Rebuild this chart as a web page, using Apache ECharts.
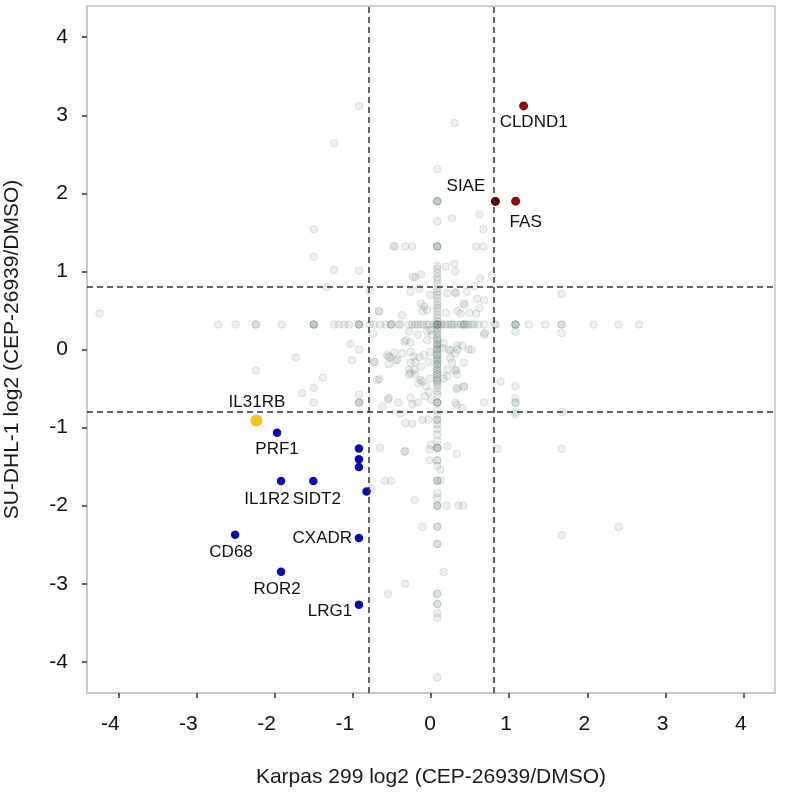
<!DOCTYPE html>
<html>
<head>
<meta charset="utf-8">
<script src="https://cdn.jsdelivr.net/npm/echarts@6/dist/echarts.min.js"></script>
<style>
  html, body { margin: 0; padding: 0; background: #ffffff; }
  #chart { width: 796px; height: 792px; }
</style>
</head>
<body>
<div id="chart"></div>
<script>
// ---------------- DATA ----------------
const xTicks = [-4, -3, -2, -1, 0, 1, 2, 3, 4];
const yTicks = [-4, -3, -2, -1, 0, 1, 2, 3, 4];
const thresholds = [-0.8, 0.8];

// Up-regulated in both (dark red)
const upNames = ['CLDND1', 'SIAE', 'FAS'];
const upX = [1.185, 0.824, 1.083];
const upY = [3.12, 1.897, 1.90];

// Down-regulated in both (blue)
const downNames = ['PRF1', '', '', '', '', 'IL1R2', 'SIDT2', 'CD68', 'CXADR', 'ROR2', 'LRG1'];
const downX = [-1.969, -0.922, -0.922, -0.922, -0.824, -1.918, -1.505, -2.506, -0.922, -1.918, -0.922];
const downY = [-1.066, -1.267, -1.407, -1.505, -1.82, -1.684, -1.684, -2.374, -2.416, -2.847, -3.268];

// Highlighted gene (yellow)
const hiNames = ['IL31RB'];
const hiX = [-2.233];
const hiY = [-0.909];

// Background genes: horizontal band (y = 0.32)
const bandPoints = [
  [-2.72,0.32],[-2.50,0.32],[-2.24,0.32],[-2.24,0.32],[-1.91,0.32],
  [-1.50,0.32],[-1.50,0.32],[-1.50,0.32],[-1.50,0.32],
  [-1.24,0.32],[-1.18,0.32],[-1.11,0.32],[-1.05,0.32],
  [-0.92,0.32],[-0.92,0.32],[-0.92,0.32],[-0.92,0.32],
  [-0.78,0.32],[-0.73,0.32],[-0.65,0.32],[-0.58,0.32],
  [-0.51,0.32],[-0.51,0.32],[-0.51,0.32],
  [-0.41,0.32],[-0.39,0.32],[-0.28,0.32],[-0.24,0.32],[-0.20,0.32],[-0.17,0.32],
  [-0.13,0.32],[-0.10,0.32],[-0.05,0.32],[-0.02,0.32],[0.04,0.32],
  [0.08,0.32],[0.08,0.32],[0.08,0.32],[0.08,0.32],[0.08,0.32],[0.08,0.32],
  [0.12,0.32],[0.14,0.32],[0.18,0.32],[0.21,0.32],[0.25,0.32],[0.27,0.32],
  [0.30,0.32],[0.34,0.32],[0.38,0.32],[0.42,0.32],[0.42,0.32],[0.42,0.32],
  [0.45,0.32],[0.48,0.32],[0.52,0.32],[0.55,0.32],[0.61,0.32],[0.68,0.32],
  [0.82,0.32],[0.82,0.32],[1.08,0.32],[1.08,0.32],[1.08,0.32],[1.08,0.32],
  [1.25,0.32],[1.46,0.32],[1.67,0.32],[1.67,0.32],[2.08,0.32],[2.40,0.32],[2.66,0.32]
];

// Background genes: vertical band (x = 0.08)
const columnPoints = [
  [0.08,2.31],[0.08,1.90],[0.08,1.90],[0.08,1.90],[0.08,1.90],[0.08,1.64],
  [0.08,1.32],[0.08,1.32],[0.08,1.32],[0.08,1.32],
  [0.08,1.07],[0.08,1.03],[0.08,0.98],[0.08,0.93],[0.08,0.89],[0.08,0.84],
  [0.08,0.78],[0.08,0.74],[0.08,0.70],[0.08,0.66],[0.08,0.61],[0.08,0.57],
  [0.08,0.53],[0.08,0.49],[0.08,0.44],[0.08,0.40],[0.08,0.36],[0.08,0.28],
  [0.08,0.25],[0.08,0.22],[0.08,0.19],[0.08,0.15],[0.08,0.12],[0.08,0.12],
  [0.08,0.08],[0.08,0.06],[0.08,0.06],[0.08,0.02],[0.08,0.00],[0.08,0.00],
  [0.08,-0.04],[0.08,-0.07],[0.08,-0.07],[0.08,-0.10],[0.08,-0.13],[0.08,-0.13],
  [0.08,-0.16],[0.08,-0.19],[0.08,-0.19],[0.08,-0.22],[0.08,-0.26],[0.08,-0.26],
  [0.08,-0.29],[0.08,-0.32],[0.08,-0.32],[0.08,-0.36],[0.08,-0.39],[0.08,-0.39],
  [0.08,-0.42],[0.08,-0.45],[0.08,-0.49],[0.08,-0.54],[0.08,-0.58],
  [0.08,-0.68],[0.08,-0.68],[0.08,-0.68],[0.08,-0.68],
  [0.08,-0.78],[0.08,-0.84],[0.08,-0.90],[0.08,-0.90],[0.08,-0.96],[0.08,-1.02],
  [0.08,-1.09],[0.08,-1.17],[0.08,-1.26],[0.08,-1.26],[0.08,-1.26],[0.08,-1.26],
  [0.08,-1.42],[0.08,-1.42],[0.08,-1.49],[0.08,-1.68],[0.08,-1.68],[0.08,-1.68],
  [0.08,-1.84],[0.08,-1.90],[0.08,-2.00],[0.08,-2.00],[0.08,-2.00],
  [0.08,-2.27],[0.08,-2.27],[0.08,-2.49],[0.08,-2.49],
  [0.08,-3.13],[0.08,-3.13],[0.08,-3.26],[0.08,-3.26],[0.08,-3.38],[0.08,-3.44],[0.08,-4.20]
];

// Background genes: scattered
const scatterPoints = [
  [-0.92,3.12],[0.30,2.90],[-1.24,2.64],[0.27,1.68],[0.62,1.73],[0.67,1.54],
  [-1.50,1.54],[-1.50,1.19],[-0.48,1.32],[-0.46,1.32],[-0.33,1.32],[-0.24,1.32],
  [0.58,1.32],[0.67,1.32],[0.19,1.06],[0.30,1.10],[0.31,1.00],[-1.24,1.02],
  [-0.92,1.01],[-1.33,0.80],[-0.78,0.75],[0.63,0.91],[0.78,0.95],[-0.20,0.93],
  [-0.13,0.96],[-0.23,0.93],[1.67,0.71],[-0.26,0.74],[-0.15,0.78],[-0.01,0.70],
  [0.21,0.72],[0.31,0.73],[0.46,0.74],[0.56,0.81],[0.59,0.65],[0.68,0.63],
  [-0.13,0.59],[-0.09,0.55],[-0.05,0.51],[0.42,0.59],[0.19,0.47],[0.38,0.46],
  [0.49,0.47],[0.43,0.57],[0.34,0.49],[0.58,0.46],[-0.67,0.49],[-0.37,0.44],
  [0.62,0.53],[-4.24,0.46],[-0.11,0.49],[0.32,0.72],[-0.66,0.49],
  [-0.01,0.25],[0.015,0.19],[-0.05,0.23],[-0.28,0.23],[-0.17,0.19],[-0.32,0.12],
  [-0.26,0.09],[-1.03,0.07],[-0.92,0.00],[-0.05,0.12],[0.16,0.08],[0.14,0.02],
  [0.33,0.05],[0.40,0.05],[0.25,-0.01],[0.48,0.00],[0.68,0.19],[1.08,0.23],
  [1.67,0.21],[-0.74,0.20],[-0.37,-0.05],[-0.26,-0.03],[-0.22,-0.09],[-0.15,-0.10],
  [-0.09,-0.07],[-0.01,-0.03],[-0.56,-0.07],[-0.52,-0.10],[-1.01,-0.14],[-0.73,-0.16],
  [-0.54,-0.19],[-0.45,-0.14],[-0.26,-0.17],[-0.20,-0.16],[-0.13,-0.22],[-0.03,-0.16],
  [0.25,-0.11],[0.31,-0.05],[0.27,-0.17],[0.21,-0.26],[0.31,-0.27],[0.33,-0.32],
  [0.42,-0.17],[-0.26,-0.30],[-0.28,-0.26],[-0.20,-0.32],[-0.13,-0.39],[-0.11,-0.41],
  [-0.01,-0.37],[0.16,-0.37],[-0.69,-0.39],[0.33,-0.49],[0.42,-0.47],[0.89,-0.41],
  [1.08,-0.47],[-1.73,-0.10],[-0.72,-0.16],[-2.24,-0.27],[-1.38,-0.36],[-0.66,-0.38],
  [-1.50,-0.49],[-1.65,-0.56],[-0.54,-0.09],[-0.47,-0.04],[-0.43,-0.13],[-0.34,0.10],
  [0.23,0.00],[0.34,0.00],[0.52,0.00],[0.69,0.21],[-0.06,-0.47],[0.21,-0.34],
  [0.32,-0.26],[-0.16,-0.43],[-0.08,-0.60],[-0.21,-0.26],[-0.28,-0.32],[-0.62,-0.73],
  [-0.55,-0.64],[-0.54,-0.62],
  [-0.92,-0.58],[-0.92,-0.68],[-0.92,-0.68],[-0.92,-0.68],[-1.50,-0.68],[-0.26,-0.62],
  [-0.24,-0.70],[-0.17,-0.68],[0.00,-0.64],[-0.03,-0.54],[0.31,-0.68],[0.33,-0.71],
  [0.33,-0.51],[0.42,-0.48],[0.40,-0.75],[0.68,-0.68],[1.08,-0.62],[1.08,-0.68],
  [1.08,-0.68],[1.08,-0.80],[-0.42,-0.68],[-0.39,-0.82],[-0.11,-0.90],[-0.03,-0.90],
  [-0.24,-0.95],[-0.33,-0.94],[-0.65,-1.26],[-0.33,-1.30],[0.00,-1.22],[-0.02,-1.28],
  [0.21,-1.24],[0.33,-1.34],[1.67,-0.80],[1.67,-1.27],[0.85,-1.27],[-0.34,-1.31],
  [-0.02,-1.42],[0.12,-1.54],[-0.59,-1.68],[0.12,-1.68],[-0.76,-1.78],[-0.51,-1.68],
  [-0.21,-1.93],[0.20,-2.00],[0.35,-2.00],[0.41,-2.00],[-0.11,-2.27],[2.40,-2.27],
  [1.67,-2.38],[0.16,-2.85],[-0.33,-3.00],[-0.55,-3.13],[1.08,-0.83]
];

// ---------------- STYLE / LAYOUT ----------------
const FONT = '"Liberation Sans", Arial, Helvetica, sans-serif';
const labelOffsets = {
  CLDND1: [10, 16], SIAE: [-29.5, -15.5], FAS: [10, 21],
  IL31RB: [0.5, -18.5], PRF1: [0, 17], IL1R2: [-14, 18], SIDT2: [3.5, 18],
  CD68: [-4, 17], CXADR: [-36.6, 0], ROR2: [-4, 18], LRG1: [-29, 7]
};
const upColors = ['#8a0f0f', '#5e0303', '#8a0f0f'];

function labeled(names, xs, ys, colors) {
  return names.map((n, i) => {
    const item = { value: [xs[i], ys[i]], name: n };
    if (colors) item.itemStyle = { color: colors[i], opacity: 1 };
    if (n) {
      item.label = {
        show: true, position: 'inside', formatter: n,
        offset: labelOffsets[n], color: '#111111',
        fontSize: 17, fontFamily: FONT
      };
    }
    return item;
  });
}

const grayData = bandPoints.concat(columnPoints, scatterPoints);

const chart = echarts.init(document.getElementById('chart'), null, { renderer: 'canvas' });

const axisCommon = {
  type: 'value',
  min: -4.4, max: 4.4,
  nameLocation: 'middle',
  nameTextStyle: { fontSize: 21, color: '#1a1a1a', fontFamily: FONT },
  axisLine: { show: true, onZero: false, lineStyle: { color: '#c4c4c4', width: 1.5 } },
  splitLine: { show: false },
};

function xLabel(v) {
  if (!Number.isInteger(v)) return '';
  if (v < 0) return '{neg|' + v + '}';
  if (v === 0) return '{zero|' + v + '}';
  return '{pos|' + v + '}';
}
const labelRich = {
  neg: { fontSize: 21, color: '#111', fontFamily: FONT, padding: [0, 16, 0, 0] },
  zero: { fontSize: 21, color: '#111', fontFamily: FONT, padding: [0, 2, 0, 0] },
  pos: { fontSize: 21, color: '#111', fontFamily: FONT, padding: [0, 6, 0, 0] }
};

chart.setOption({
  animation: false,
  backgroundColor: '#ffffff',
  grid: {
    left: 87, right: 21, top: 6, bottom: 99,
    outerBoundsMode: 'none', containLabel: false,
    show: true, borderColor: '#c4c4c4', borderWidth: 1.5, backgroundColor: 'transparent'
  },
  xAxis: Object.assign({}, axisCommon, {
    name: 'Karpas 299 log2 (CEP-26939/DMSO)',
    nameGap: 74,
    axisTick: { show: true, length: 5, lineStyle: { color: '#333', width: 1.5 }, customValues: xTicks },
    axisLabel: {
      customValues: xTicks, margin: 21, fontSize: 21, color: '#111', fontFamily: FONT,
      formatter: xLabel, rich: labelRich
    }
  }),
  yAxis: Object.assign({}, axisCommon, {
    name: 'SU-DHL-1 log2 (CEP-26939/DMSO)',
    nameGap: 64,
    axisTick: { show: true, length: 5, lineStyle: { color: '#333', width: 1.5 }, customValues: yTicks },
    axisLabel: {
      customValues: yTicks, margin: 19, fontSize: 21, color: '#111', fontFamily: FONT,
      formatter: v => (Number.isInteger(v) ? String(v) : '')
    }
  }),
  series: [
    {
      name: 'background', type: 'scatter', z: 1,
      symbolSize: 7.5,
      itemStyle: { color: 'rgba(105,132,124,0.12)', borderColor: 'rgba(105,132,124,0.2)', borderWidth: 1, opacity: 1 },
      data: grayData,
      silent: true
    },
    {
      name: 'thresholds', type: 'scatter', z: 2, data: [],
      markLine: {
        silent: true, symbol: ['none', 'none'], animation: false,
        label: { show: false },
        lineStyle: { type: [6, 4], color: '#333333', width: 1.5, opacity: 1 },
        data: thresholds.map(t => ({ xAxis: t })).concat(thresholds.map(t => ({ yAxis: t })))
      }
    },
    {
      name: 'down', type: 'scatter', z: 3, symbolSize: 8.5,
      itemStyle: { color: '#0c0ca6', opacity: 1 },
      data: labeled(downNames, downX, downY)
    },
    {
      name: 'up', type: 'scatter', z: 3, symbolSize: 9,
      itemStyle: { opacity: 1 },
      data: labeled(upNames, upX, upY, upColors)
    },
    {
      name: 'highlight', type: 'scatter', z: 4, symbolSize: 12,
      itemStyle: { color: '#f0c31e', opacity: 1 },
      data: labeled(hiNames, hiX, hiY)
    }
  ]
});
</script>
</body>
</html>
